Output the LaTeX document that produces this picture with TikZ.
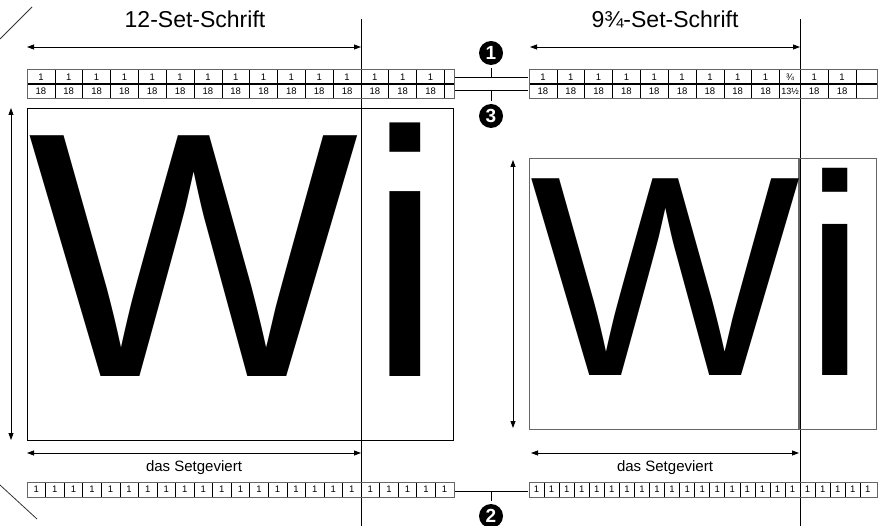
\documentclass[tikz,border=0pt]{standalone}
\usepackage{fontspec}
\setmainfont{Liberation Sans}
\usetikzlibrary{arrows.meta}

\tikzset{
  dimarrow/.style={{Triangle[length=7pt,width=5pt]}-{Triangle[length=7pt,width=5pt]}, line width=0.8pt},
  frame/.style={draw=black!60, line width=1pt},
  cell/.style={inner sep=0pt, font=\fontsize{9.5}{9.5}\selectfont},
  marker/.style={circle, fill=black, text=white, inner sep=0pt, minimum size=24pt, font=\fontsize{19}{19}\selectfont\bfseries},
  glyph/.style={anchor=base, inner sep=0pt},
}

\begin{document}
\begin{tikzpicture}[x=1pt,y=-1pt]
\useasboundingbox (0,0) rectangle (882,526);
% corner marks
\draw[black!80, line width=0.8pt] (0,39) -- (32,7);
\draw[black!80, line width=0.8pt] (0,485) -- (37,519);

% titles
\node[anchor=base, font=\fontsize{23}{23}\selectfont] (title12) at (195,28) {12-Set-Schrift};
\node[anchor=base, font=\fontsize{23}{23}\selectfont] (title9) at (665,28) {9¾-Set-Schrift};

% set widths
\coordinate (setL0) at (27,47);  \coordinate (setL1) at (361,47);
\coordinate (setR0) at (530,47); \coordinate (setR1) at (800,47);
\draw[dimarrow] (setL0) -- (setL1);
\draw[dimarrow] (setR0) -- (setR1);
\coordinate (cutL0) at (361,19); \coordinate (cutL1) at (361,526);
\coordinate (cutR0) at (800,19); \coordinate (cutR1) at (800,526);
\draw[line width=0.9pt] (cutL0) -- (cutL1);
\draw[line width=0.9pt] (cutR0) -- (cutR1);

% upper rulers, 1 / 18
\def\unitw{27.83}
\draw[line width=1.5pt] (27,84) -- (454,84);
\foreach \k in {1,...,15} {
  \pgfmathsetmacro{\xa}{27+\k*\unitw}
  \pgfmathsetmacro{\xm}{27+(\k-0.5)*\unitw}
  \draw[line width=0.6pt] (\xa,70) -- (\xa,99);
  \node[cell] at (\xm,77.5) {1};
  \node[cell] at (\xm,91.5) {18};
}
\draw[frame] (27,70) rectangle (454,99);

\draw[line width=1.5pt] (529,84) -- (877,84);
\foreach \k in {1,...,9} {
  \pgfmathsetmacro{\xa}{529+\k*\unitw}
  \pgfmathsetmacro{\xm}{529+(\k-0.5)*\unitw}
  \draw[line width=0.6pt] (\xa,70) -- (\xa,99);
  \node[cell] at (\xm,77.5) {1};
  \node[cell] at (\xm,91.5) {18};
}
\draw[line width=0.6pt] (800.3,70) -- (800.3,99);
\node[cell] at (790,77.5) {¾};
\node[cell, font=\fontsize{9}{9}\selectfont] at (790,91.5) {13½};
\foreach \k in {1,2} {
  \pgfmathsetmacro{\xa}{800.3+\k*\unitw}
  \pgfmathsetmacro{\xm}{800.3+(\k-0.5)*\unitw}
  \draw[line width=0.6pt] (\xa,70) -- (\xa,99);
  \node[cell] at (\xm,77.5) {1};
  \node[cell] at (\xm,91.5) {18};
}
\draw[frame] (529,70) rectangle (877,99);

% connectors 1 and 3
\coordinate (upL) at (455,78); \coordinate (upR) at (528,78);
\coordinate (loL) at (455,91); \coordinate (loR) at (528,91);
\draw[line width=1pt] (upL) -- (upR);
\draw[line width=1pt] (loL) -- (loR);
\node[marker] (m1) at (491,53) {1};
\node[marker] (m3) at (491,116) {3};
\draw[line width=1pt, shorten <=3pt] (m1) -- (m1 |- upL);
\draw[line width=1pt, shorten <=3pt] (m3) -- (m3 |- loL);

% 12-set letters
\draw[line width=0.8pt] (27,108) rectangle (453,440);
\coordinate (hL0) at (11,108); \coordinate (hL1) at (11,440);
\draw[dimarrow] (hL0) -- (hL1);
\node[glyph, font=\fontsize{350}{350}\selectfont] (bigW) at (194,376) {W};
\node[glyph, font=\fontsize{350}{350}\selectfont] (bigI) at (405.5,376) {i};

% 9 3/4-set letters
\draw[frame] (529,159) rectangle (876,429);
\draw[black!60, line width=1.6pt] (799,159) -- (799,429);
\coordinate (hR0) at (513,160); \coordinate (hR1) at (513,428);
\draw[dimarrow] (hR0) -- (hR1);
\node[glyph, font=\fontsize{286}{286}\selectfont] (smW) at (665.5,375) {W};
\node[glyph, font=\fontsize{286}{286}\selectfont] (smI) at (835.5,375) {i};

% Setgeviert
\coordinate (gvL0) at (27,453);  \coordinate (gvL1) at (361,453);
\coordinate (gvR0) at (531,453); \coordinate (gvR1) at (799,453);
\draw[dimarrow] (gvL0) -- (gvL1);
\draw[dimarrow] (gvR0) -- (gvR1);
\node[anchor=base, font=\fontsize{15}{15}\selectfont] (geviertL) at (194,471) {das Setgeviert};
\node[anchor=base, font=\fontsize{15}{15}\selectfont] (geviertR) at (665,471) {das Setgeviert};

% lower rulers, units
\foreach \k in {1,...,23} {
  \pgfmathsetmacro{\xm}{27+(\k-0.5)*18.56}
  \node[cell] at (\xm,489.5) {1};
}
\foreach \k in {1,...,22} {
  \pgfmathsetmacro{\xa}{27+\k*18.56}
  \draw[line width=0.6pt] (\xa,482) -- (\xa,497);
}
\draw[frame] (27,482) rectangle (454,497);
\foreach \k in {1,...,23} {
  \pgfmathsetmacro{\xm}{529+(\k-0.5)*15.06}
  \node[cell] at (\xm,489.5) {1};
}
\foreach \k in {1,...,22} {
  \pgfmathsetmacro{\xa}{529+\k*15.06}
  \draw[line width=0.6pt] (\xa,482) -- (\xa,497);
}
\draw[frame] (529,482) rectangle (877,497);

% connector 2
\coordinate (btL) at (455,491); \coordinate (btR) at (528,491);
\draw[line width=1pt] (btL) -- (btR);
\node[marker] (m2) at (491,516) {2};
\draw[line width=1pt, shorten <=3pt] (m2) -- (m2 |- btL);
\end{tikzpicture}
\end{document}
